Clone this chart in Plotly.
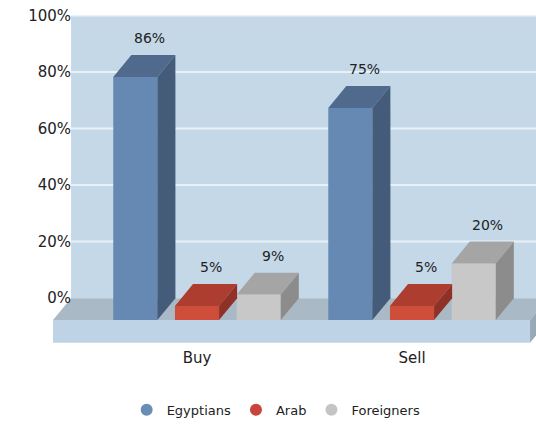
import plotly.graph_objects as go

# ---- data ----
categories = ["Buy", "Sell"]
series_names = ["Egyptians", "Arab", "Foreigners"]
egyptians = [86, 75]
arab = [5, 5]
foreigners = [9, 20]
y_ticks = [0, 20, 40, 60, 80, 100]
y_tick_labels = ["0%", "20%", "40%", "60%", "80%", "100%"]

values = [egyptians, arab, foreigners]

# ---- style ----
front_cols = ["#6589b3", "#cf4e3b", "#c8c8c8"]
top_cols = ["#4f6a8d", "#ad3d2f", "#a5a5a5"]
side_cols = ["#445b79", "#8f3126", "#8c8c8c"]
legend_cols = ["#6a8db6", "#c8453b", "#c4c4c4"]
offsets = [-0.287, 0.0, 0.287]
bar_w = 0.205
DX = 0.084   # depth offset (x units)
DY = 7.76    # depth offset (y units)
X_RANGE = [-0.6698, 1.5767]
Y_RANGE = [-8.11, 107.9]
FONT = "DejaVu Sans"

fig = go.Figure()

xs_cat = list(range(len(categories)))

# front faces as bars
for si, name in enumerate(series_names):
    xs = [c + offsets[si] for c in xs_cat]
    fig.add_trace(go.Bar(
        x=xs, y=values[si], width=bar_w, base=0,
        marker=dict(color=front_cols[si], line=dict(width=0)),
        showlegend=False, hoverinfo="skip"))

# top and side faces
for si, name in enumerate(series_names):
    for ci in xs_cat:
        v = values[si][ci]
        x0 = ci + offsets[si] - bar_w / 2
        x1 = ci + offsets[si] + bar_w / 2
        fig.add_trace(go.Scatter(
            x=[x0, x1, x1 + DX, x0 + DX, x0],
            y=[v, v, v + DY, v + DY, v],
            fill="toself", fillcolor=top_cols[si], mode="lines",
            line=dict(width=0, color=top_cols[si]),
            showlegend=False, hoverinfo="skip"))
        fig.add_trace(go.Scatter(
            x=[x1, x1 + DX, x1 + DX, x1, x1],
            y=[0, DY, v + DY, v, 0],
            fill="toself", fillcolor=side_cols[si], mode="lines",
            line=dict(width=0, color=side_cols[si]),
            showlegend=False, hoverinfo="skip"))

# legend entries (circles)
for si, name in enumerate(series_names):
    fig.add_trace(go.Scatter(
        x=[None], y=[None], mode="markers", name=name,
        marker=dict(symbol="circle", size=13, color=legend_cols[si])))

# value labels
for si, name in enumerate(series_names):
    for ci in xs_cat:
        v = values[si][ci]
        fig.add_annotation(
            x=ci + offsets[si], y=v + DY, text=f"{v}%",
            showarrow=False, xshift=14, yshift=17, yanchor="middle",
            font=dict(family=FONT, size=14, color="#222222"))

# ---- background: wall, floor, slab ----
wall_left = X_RANGE[0] + DX
right_far = X_RANGE[1] + 0.2
slab_right = 1.549
shapes = []
shapes.append(dict(type="rect", xref="x", yref="y", layer="below",
                   x0=wall_left, x1=right_far, y0=DY, y1=y_ticks[-1] + DY,
                   fillcolor="#c4d8e8", line=dict(width=0)))
for t in y_ticks[1:]:
    shapes.append(dict(type="line", xref="x", yref="y", layer="below",
                       x0=wall_left, x1=right_far, y0=t + DY, y1=t + DY,
                       line=dict(color="#e8f1f8", width=2)))
# floor top
shapes.append(dict(type="path", xref="x", yref="y", layer="below",
                   path=f"M {X_RANGE[0]},0 L {slab_right},0 L {slab_right + DX},{DY} L {wall_left},{DY} Z",
                   fillcolor="#a9b9c6", line=dict(width=0)))
# floor front slab
shapes.append(dict(type="rect", xref="x", yref="y", layer="below",
                   x0=X_RANGE[0], x1=slab_right, y0=Y_RANGE[0] + 0.1, y1=0,
                   fillcolor="#bed4e6", line=dict(width=0)))
# floor right side
shapes.append(dict(type="path", xref="x", yref="y", layer="below",
                   path=f"M {slab_right},{Y_RANGE[0] + 0.1} L {slab_right},0 L {slab_right + DX},{DY} L {slab_right + DX},{Y_RANGE[0] + 0.1 + DY} Z",
                   fillcolor="#98a9b6", line=dict(width=0)))

fig.update_layout(
    width=536, height=427,
    margin=dict(l=53, r=0, t=15, b=84),
    paper_bgcolor="white", plot_bgcolor="white",
    shapes=shapes,
    barmode="overlay",
    font=dict(family=FONT, size=14, color="#222222"),
    xaxis=dict(range=X_RANGE, tickvals=xs_cat, ticktext=categories,
               showgrid=False, zeroline=False, showline=False,
               ticks="", ticklabelstandoff=4,
               tickfont=dict(size=15, family=FONT, color="#222222"),
               fixedrange=True),
    yaxis=dict(range=Y_RANGE, tickvals=[t + DY for t in y_ticks],
               ticktext=y_tick_labels, showgrid=False, zeroline=False,
               showline=False, ticks="", anchor="free",
               position=(X_RANGE[0] + DX - X_RANGE[0]) / (X_RANGE[1] - X_RANGE[0]),
               automargin=False,
               tickfont=dict(size=15, family=FONT, color="#222222"),
               fixedrange=True),
    showlegend=True,
    legend=dict(orientation="h", x=0.462, xanchor="center", y=-0.204,
                yanchor="middle", font=dict(family=FONT, size=13, color="#222222"),
                itemwidth=30, itemsizing="constant", bgcolor="rgba(0,0,0,0)"),
)

fig.write_html(
    "out.html",
    config={"displayModeBar": False},
    post_script="document.body.style.margin='0px';document.body.style.overflow='hidden';",
)
